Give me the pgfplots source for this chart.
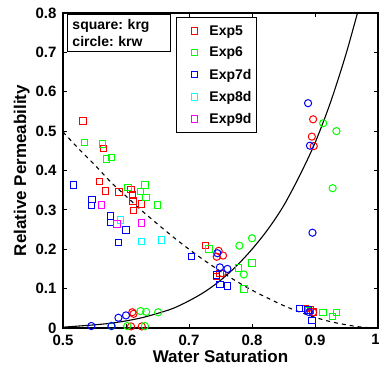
\documentclass[border=0pt]{standalone}
\usepackage{pgfplots}
\pgfplotsset{compat=1.18}
\usepackage{fontspec}
\setmainfont{Liberation Sans}
\definecolor{mred}{rgb}{1,0,0}
\definecolor{mgreen}{rgb}{0,1,0}
\definecolor{mblue}{rgb}{0,0,1}
\definecolor{mcyan}{rgb}{0,1,1}
\definecolor{mmag}{rgb}{1,0,1}
\begin{document}
\frenchspacing
\begin{tikzpicture}
\begin{axis}[
  scale only axis, width=315pt, height=315pt,
  xmin=0.5, xmax=1, ymin=0, ymax=0.8,
  xtick={0.5,0.6,0.7,0.8,0.9,1}, xticklabels={0.5,0.6,0.7,0.8,0.9,{\hspace*{-5pt}1}},
  ytick={0,0.1,0.2,0.3,0.4,0.5,0.6,0.7,0.8},
  yticklabels={0,0.1,0.2,0.3,0.4,0.5,0.6,0.7,0.8},
  /pgf/number format/assume math mode=true,
  tick align=inside, tick pos=both, major tick length=4pt,
  tick style={black, line width=0.8pt},
  axis line style={line width=1.4pt},
  ticklabel style={font=\fontsize{15}{15}\selectfont\bfseries},
  xticklabel style={yshift=-3pt},
  yticklabel style={xshift=-3pt},
  xlabel={Water Saturation}, ylabel={Relative Permeability},
  label style={font=\fontsize{17}{17}\selectfont\bfseries},
  xlabel style={yshift=2pt},
  ylabel style={yshift=-1pt},
  legend style={at={(0.359,0.987)}, anchor=north west, draw=black, line width=0.8pt,
    font=\fontsize{14}{14}\selectfont\bfseries, row sep=6.5pt, inner xsep=3pt, inner ysep=6pt},
  legend cell align=left,
  legend image code/.code={\path[draw=none,fill=none] (0pt,0pt) (28pt,0pt); \draw[#1] plot coordinates {(15pt,0pt)};},
  every axis plot/.append style={line width=1pt},
  sq/.style={only marks, draw=#1, mark=square, mark size=3.2pt, mark options={draw=#1, fill=none}},
  ci/.style={only marks, draw=#1, mark=o, mark size=3.6pt, mark options={draw=#1, fill=none}, forget plot},
]
% Exp5
\addplot[sq=mred] coordinates {
(0.532,0.526) (0.564,0.456) (0.558,0.372) (0.567,0.348) (0.589,0.345)
(0.608,0.352) (0.610,0.338) (0.611,0.323) (0.612,0.298) (0.625,0.315)
(0.726,0.209) (0.744,0.131) (0.749,0.139) (0.885,0.050) (0.893,0.046) (0.897,0.041)};
\addlegendentry{Exp5}
\addplot[ci=mred] coordinates {
(0.610,0.040) (0.612,0.036) (0.608,0.004) (0.625,0.004) (0.747,0.196) (0.744,0.181)
(0.754,0.184) (0.753,0.139) (0.897,0.530) (0.895,0.486) (0.898,0.462) (0.897,0.040)};
% Exp6
\addplot[sq=mgreen] coordinates {
(0.534,0.471) (0.563,0.467) (0.569,0.429) (0.577,0.433) (0.603,0.357) (0.623,0.346)
(0.630,0.363) (0.632,0.332) (0.650,0.312) (0.732,0.201) (0.800,0.165) (0.779,0.152)
(0.787,0.099) (0.890,0.044) (0.913,0.040) (0.928,0.029) (0.934,0.040)};
\addlegendentry{Exp6}
\addplot[ci=mgreen] coordinates {
(0.577,0.005) (0.602,0.005) (0.630,0.005) (0.623,0.043) (0.632,0.041) (0.651,0.040)
(0.780,0.209) (0.800,0.228) (0.787,0.136) (0.913,0.520) (0.934,0.500) (0.928,0.355)};
% Exp7d
\addplot[sq=mblue] coordinates {
(0.517,0.363) (0.546,0.327) (0.545,0.311) (0.575,0.284) (0.575,0.268) (0.600,0.249)
(0.588,0.217) (0.704,0.182) (0.744,0.135) (0.749,0.110) (0.761,0.107) (0.875,0.050)
(0.889,0.046) (0.895,0.019)};
\addlegendentry{Exp7d}
\addplot[ci=mblue] coordinates {
(0.545,0.005) (0.577,0.005) (0.588,0.026) (0.600,0.032) (0.745,0.190) (0.749,0.154)
(0.761,0.150) (0.889,0.571) (0.892,0.463) (0.896,0.242) (0.891,0.040)};
% Exp8d
\addplot[sq=mcyan] coordinates {
(0.591,0.274) (0.625,0.219) (0.656,0.223)};
\addlegendentry{Exp8d}
% Exp9d
\addplot[sq=mmag] coordinates {
(0.561,0.312) (0.586,0.264) (0.625,0.267)};
\addlegendentry{Exp9d}
% krg fit (dashed)
\addplot[draw=black, line width=1.1pt, dash pattern=on 4pt off 4pt, forget plot, smooth] coordinates {
(0.500,0.498) (0.525,0.455) (0.550,0.415) (0.575,0.372) (0.600,0.335) (0.625,0.298)
(0.650,0.264) (0.675,0.231) (0.700,0.200) (0.725,0.171) (0.750,0.144) (0.775,0.119)
(0.800,0.096) (0.825,0.076) (0.850,0.057) (0.875,0.041) (0.900,0.027) (0.925,0.016)
(0.950,0.008) (0.975,0.002) (1.000,0.000)};
% krw fit (solid)
\addplot[draw=black, line width=1.1pt, forget plot, smooth] coordinates {
(0.500,0.002) (0.525,0.005) (0.550,0.008) (0.575,0.012) (0.600,0.018) (0.625,0.026)
(0.650,0.037) (0.675,0.050) (0.700,0.069) (0.725,0.092) (0.750,0.121) (0.775,0.157)
(0.800,0.200) (0.825,0.250) (0.850,0.310) (0.875,0.385) (0.900,0.470) (0.925,0.575)
(0.950,0.700) (0.975,0.845)};
\node[draw=black, line width=0.8pt, fill=white, anchor=north west, align=left,
  font=\fontsize{14}{17}\selectfont\bfseries, inner xsep=5pt, inner ysep=5pt, text width=93pt]
  at (rel axis cs:0.013,0.997) {square: krg\\circle: krw};
\end{axis}
\pgfresetboundingbox
\path[use as bounding box] ([xshift=-63pt,yshift=-40pt]current axis.south west) rectangle ([xshift=1pt,yshift=13pt]current axis.north east);
\end{tikzpicture}
\end{document}
